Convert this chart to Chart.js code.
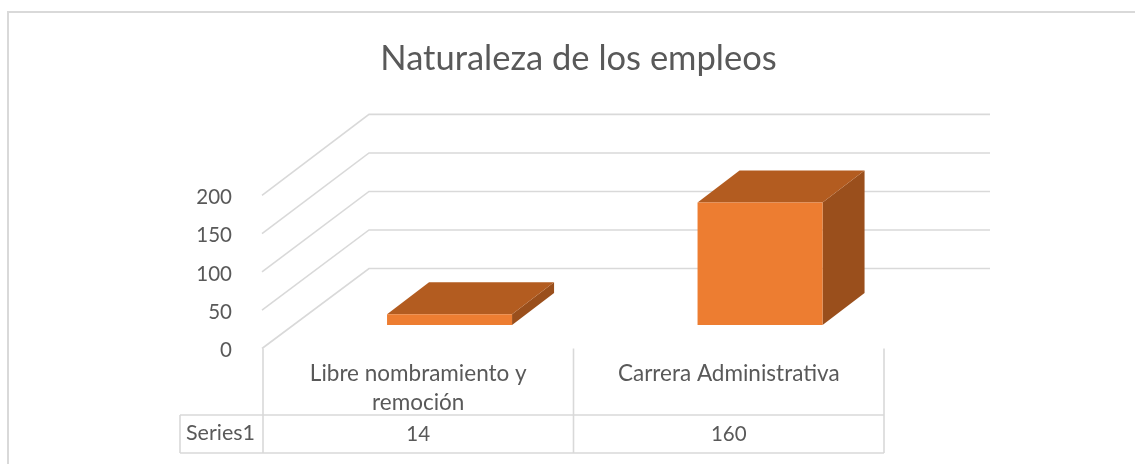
<!DOCTYPE html>
<html><head><meta charset="utf-8">
<script src="https://cdn.jsdelivr.net/npm/chart.js@4/dist/chart.umd.min.js"></script>
<style>html,body{margin:0;padding:0;background:#fff}canvas{display:block}</style>
</head><body><canvas id="c" width="1135" height="464"></canvas>
<script>
const categories = [["Libre nombramiento y","remoción"],["Carrera Administrativa"]];
const seriesName = "Series1";
const seriesValues = [14,160];
const yTicks = [0,50,100,150,200];
const chartTitle = "Naturaleza de los empleos";

const FONT = "Lato, Carlito, Calibri, sans-serif";
const TEXT = "#595959", GRID = "#d9d9d9";
const FLOOR = {dx:106, dy:80};
const BAR_OFF = {dx:31.3, dy:23.5};
const BAR_DEPTH = {dx:42, dy:32};

const threeD = {
  id:"threeD",
  afterLayout(chart){
    chart.titleBlock.left = 0;
    chart.titleBlock.right = 1157;
  },
  beforeDraw(chart){
    const c = chart.ctx;
    c.save();
    c.fillStyle="#fff"; c.fillRect(0,0,chart.width,chart.height);
    c.strokeStyle=GRID; c.lineWidth=2;
    c.beginPath(); c.moveTo(8,464); c.lineTo(8,12); c.lineTo(1135,12); c.stroke();
    c.restore();
    chart.scales.y.getLabelItems(chart.chartArea).forEach(i=>{ i.options.translation[1]+=2; });
  },
  beforeDatasetsDraw(chart){
    const c = chart.ctx, y = chart.scales.y, a = chart.chartArea, x = chart.scales.x;
    c.save();
    c.strokeStyle=GRID; c.lineWidth=1.6;
    const p0 = y.getPixelForValue(0);
    yTicks.forEach(v=>{
      const p = y.getPixelForValue(v);
      const by = p0-FLOOR.dy+(p-p0)*1.0065;
      c.beginPath();
      c.moveTo(a.left-1,p);
      c.lineTo(a.left+FLOOR.dx,by);
      c.lineTo(990,by);
      c.stroke();
    });
    const rowTop=415,rowBot=453,seriesL=180;
    c.beginPath();
    c.moveTo(seriesL,rowTop); c.lineTo(a.right,rowTop);
    c.moveTo(seriesL,rowBot); c.lineTo(a.right,rowBot);
    c.moveTo(seriesL,rowTop); c.lineTo(seriesL,rowBot);
    const n=categories.length;
    for(let i=0;i<=n;i++){
      const px=a.left+(a.right-a.left)*i/n;
      c.moveTo(px,p0); c.lineTo(px,rowBot);
    }
    c.stroke();
    c.fillStyle=TEXT; c.textBaseline="middle"; c.textAlign="center";
    c.font="21.5px "+FONT;
    c.fillText(seriesName,(seriesL+a.left)/2-1,433.5);
    c.font="20.5px "+FONT;
    seriesValues.forEach((v,i)=>c.fillText(String(v),x.getPixelForValue(i),434));
    c.restore();

    c.save();
    c.translate(BAR_OFF.dx,-BAR_OFF.dy);
    chart.getDatasetMeta(0).data.forEach(el=>{
      const L=el.x-el.width/2,R=el.x+el.width/2,T=el.y,B=el.base;
      const dx=BAR_DEPTH.dx,dy=BAR_DEPTH.dy;
      c.fillStyle="#9a4f1c";
      c.beginPath(); c.moveTo(R,T); c.lineTo(R+dx,T-dy); c.lineTo(R+dx,B-dy); c.lineTo(R,B); c.closePath(); c.fill();
      c.fillStyle="#b35c20";
      c.beginPath(); c.moveTo(L,T); c.lineTo(L+dx,T-dy); c.lineTo(R+dx,T-dy); c.lineTo(R,T); c.closePath(); c.fill();
    });
    c.restore();
    c.save();
    c.translate(BAR_OFF.dx,-BAR_OFF.dy);
  },
  afterDatasetsDraw(chart){ chart.ctx.restore(); }
};

new Chart(document.getElementById("c"),{
  type:"bar",
  data:{labels:categories,datasets:[{label:seriesName,data:seriesValues,backgroundColor:"#ed7d31",
    categoryPercentage:0.4026,barPercentage:1}]},
  plugins:[threeD],
  options:{
    responsive:false,animation:false,
    layout:{padding:{left:0,right:251,top:0,bottom:0}},
    plugins:{legend:{display:false},tooltip:{enabled:false},
      title:{display:true,text:chartTitle,color:TEXT,font:{family:FONT,size:34.5,weight:"normal"},
        padding:{top:38,bottom:116}}},
    scales:{
      x:{grid:{display:false},border:{display:false},
        ticks:{color:TEXT,font:{family:FONT,size:22.5,lineHeight:1.29},padding:3,maxRotation:0,minRotation:0,autoSkip:false},
        afterFit(s){s.height=115.5;}},
      y:{min:0,max:200,grid:{display:false},border:{display:false},
        afterBuildTicks(s){s.ticks=yTicks.map(v=>({value:v}));},
        ticks:{color:TEXT,font:{family:FONT,size:20.5},padding:23},
        afterFit(s){s.width=263;}}
    }
  }
});
</script></body></html>
